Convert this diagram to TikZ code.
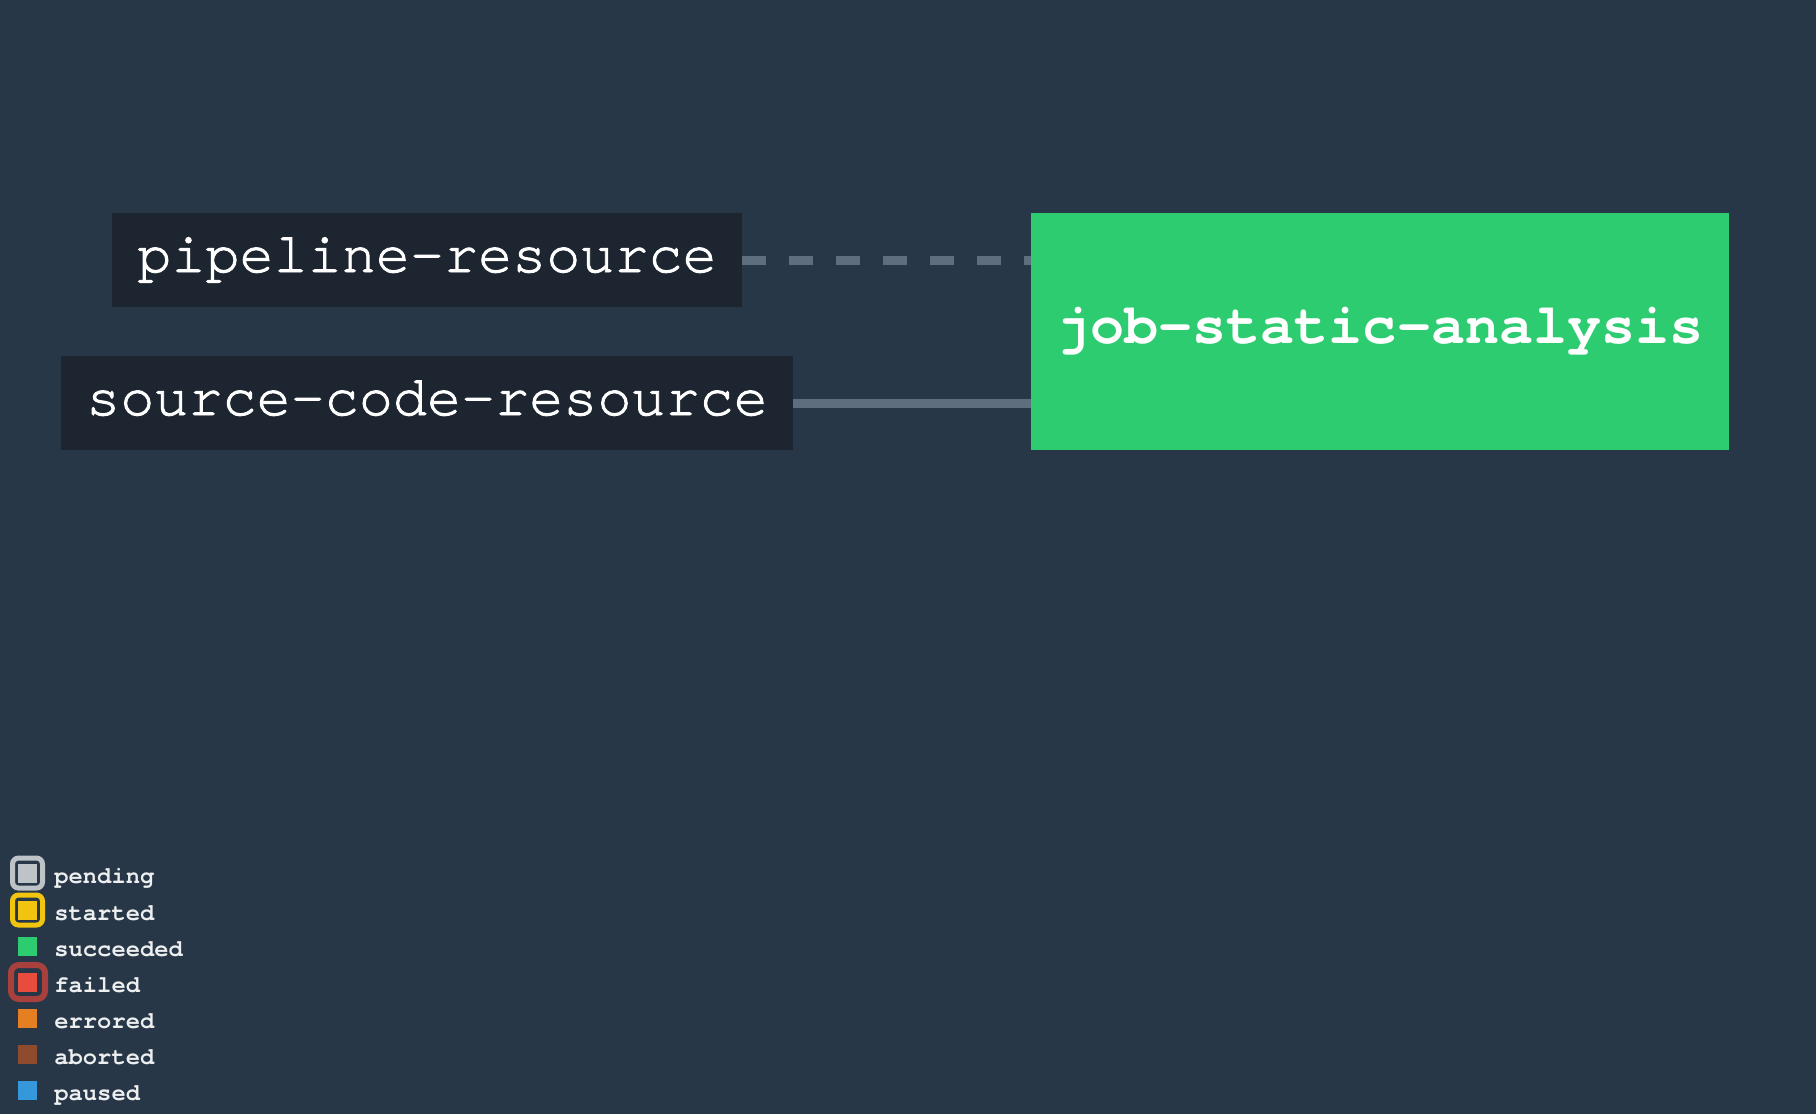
\documentclass[tikz,border=0pt]{standalone}
\usepackage{fontspec}
\usepackage{tikz}
\usetikzlibrary{positioning}
\newfontfamily\codefont{texgyrecursor}[Extension=.otf,UprightFont=*-regular,BoldFont=*-bold]
\newfontfamily\resfont{texgyrecursor}[Extension=.otf,UprightFont=*-regular,FakeBold=1.6]
\definecolor{bgcol}{HTML}{273747}
\definecolor{boxcol}{HTML}{1D2630}
\definecolor{linecol}{HTML}{5F6E7E}
\definecolor{pendcol}{HTML}{BDC3C7}
\definecolor{startcol}{HTML}{F1C40F}
\definecolor{okcol}{HTML}{2ECC71}
\definecolor{failcol}{HTML}{E74C3C}
\definecolor{failring}{HTML}{A8403D}
\definecolor{errcol}{HTML}{E67E22}
\definecolor{abortcol}{HTML}{8F4B2D}
\definecolor{pausecol}{HTML}{3498DB}
\definecolor{legtext}{HTML}{ECEEEF}

\begin{document}
\begin{tikzpicture}[x=0.5pt,y=-0.5pt,
    res/.style={fill=boxcol,text=white,inner sep=0pt,minimum height=47pt,
      font=\resfont\fontsize{28.4}{30}\selectfont,text height=12pt,text depth=0pt},
    job/.style={fill=okcol,text=white,inner sep=0pt,minimum width=349pt,minimum height=118.5pt,
      font=\codefont\bfseries\fontsize{28.4}{30}\selectfont,text height=12pt,text depth=0pt},
    link/.style={linecol,line width=4.5pt},
    sq/.style={inner sep=0pt,minimum size=9.5pt},
    ring/.style={draw,inner sep=0pt,minimum size=15pt,line width=2.5pt,rounded corners=3pt},
    leg/.style={anchor=west,inner sep=0pt,text=legtext,
      font=\codefont\bfseries\fontsize{11.9}{13}\selectfont,text height=10pt,text depth=0pt}]
    \useasboundingbox[fill=bgcol] (0,0) rectangle (1816,1114);

    \node[res,minimum width=315pt] (pipe) at (427,260) {pipeline-resource};
    \node[res,minimum width=366pt] (src) at (427,403) {source-code-resource};
    \node[job] (job) at (1380,331.5) {job-static-analysis};

    \draw[link,dash pattern=on 12pt off 11.5pt] (pipe.east) -- (pipe.east -| job.west);
    \draw[link] (src.east) -- (src.east -| job.west);

    % legend
    \node[ring,draw=pendcol] (pendring) at (27.5,873) {};
    \node[sq,fill=pendcol] (pend) at (27.5,873) {};
    \node[leg] (pendtxt) at (54,873) {pending};
    \node[ring,draw=startcol] (startring) at (27.5,910) {};
    \node[sq,fill=startcol] (start) at (27.5,910) {};
    \node[leg] (starttxt) at (54,910) {started};
    \node[sq,fill=okcol] (ok) at (27.5,946) {};
    \node[leg] (oktxt) at (54,946) {succeeded};
    \node[ring,draw=failring,minimum size=17pt,line width=3pt,rounded corners=4pt] (failring) at (28,982) {};
    \node[sq,fill=failcol] (fail) at (27.5,982) {};
    \node[leg] (failtxt) at (54,982) {failed};
    \node[sq,fill=errcol] (err) at (27.5,1018) {};
    \node[leg] (errtxt) at (54,1018) {errored};
    \node[sq,fill=abortcol] (abort) at (27.5,1054) {};
    \node[leg] (aborttxt) at (54,1054) {aborted};
    \node[sq,fill=pausecol] (pause) at (27.5,1090) {};
    \node[leg] (pausetxt) at (54,1090) {paused};
\end{tikzpicture}
\end{document}
